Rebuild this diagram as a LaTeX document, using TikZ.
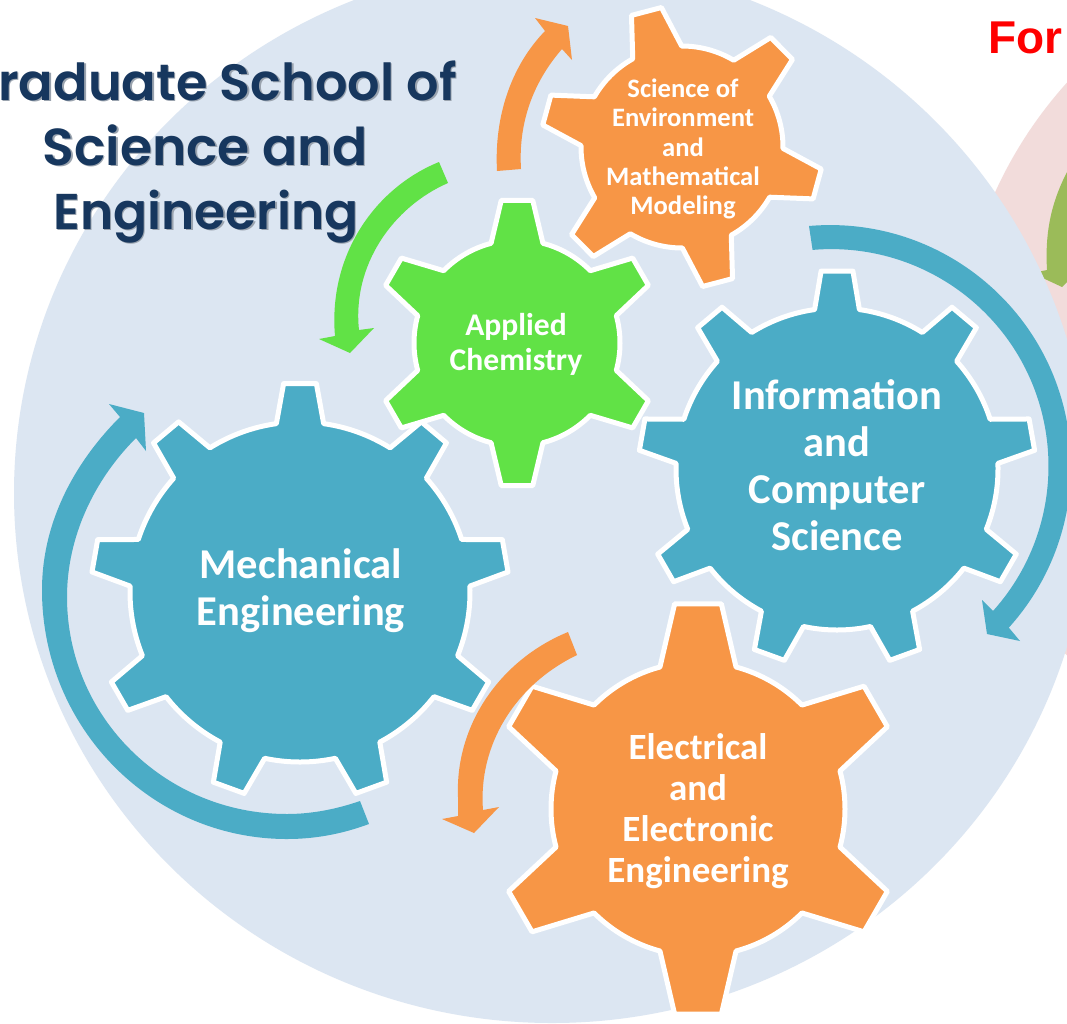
\documentclass[tikz,border=0pt]{standalone}
\usepackage{fontspec}
\setmainfont{Carlito}
\newfontfamily\titlefont{Poppins}[BoldFont={Poppins SemiBold}]
\newfontfamily\redfont{Liberation Sans}
\definecolor{bluedisc}{HTML}{DCE6F2}
\definecolor{pinkdisc}{HTML}{F2DCDB}
\definecolor{tealc}{HTML}{4BACC6}
\definecolor{orangec}{HTML}{F79646}
\definecolor{greenc}{HTML}{61E246}
\definecolor{olivec}{HTML}{9BBB59}
\definecolor{navyc}{HTML}{17375E}
\definecolor{shadowc}{HTML}{9AA3AE}
\tikzset{
  gearline/.style={draw=white,line width=5pt,line join=round},
  gearlabel/.style={text=white,align=center,inner sep=0pt,font=\bfseries},
  titleline/.style={inner sep=0pt,anchor=base,font=\titlefont\bfseries\fontsize{52}{64.5}\selectfont},
  titlefirst/.style={inner sep=0pt,anchor=base east,font=\titlefont\bfseries\fontsize{51}{64.5}\selectfont},
  titlelast/.style={inner sep=0pt,anchor=base,font=\titlefont\bfseries\fontsize{50.3}{64.5}\selectfont},
}
% cx, cy, root radius, tip radius, teeth, rotation, root half angle, tip half angle, colour
\newcommand{\cog}[9]{%
  \pgfmathsetmacro\cogstep{360/#5}%
  \begin{scope}[shift={(#1,-#2)},rotate=#6]
    \path[gearline,fill=#9] (\cogstep-#7:#3)
      \foreach \i in {1,...,#5} {
        \pgfextra{\pgfmathsetmacro\t{\i*\cogstep}\pgfmathsetmacro\tn{\t+\cogstep}}
        -- (\t-#8:#4) -- (\t+#8:#4) -- (\t+#7:#3)
        arc[start angle=\t+#7,end angle=\tn-#7,radius=#3]
      } -- cycle;
  \end{scope}}
\begin{document}
\begin{tikzpicture}[x=1pt,y=1pt]
\useasboundingbox (0,0) rectangle (1067,-1023);
\clip (0,0) rectangle (1067,-1023);
\fill[white] (0,0) rectangle (1067,-1023);
% discs
\fill[pinkdisc] (1385,-369) circle[radius=428];
\fill[olivec] (1067,-172) .. controls (1050,-205) and (1045,-235) .. (1047,-270)
  -- (1032,-273) -- (1062,-287) -- (1067,-282) -- cycle;
\fill[bluedisc] (552,-493) ellipse[x radius=538,y radius=530];
% title
\node[titlefirst,text=shadowc] at (458.5,-101.5) {raduate School of};
\node[titleline,text=shadowc] at (206.5,-166.5) {Science and};
\node[titlelast,text=shadowc] at (207.5,-230.5) {Engineering};
\node[titlefirst,text=navyc] (title1) at (457,-100) {raduate School of};
\node[titleline,text=navyc] (title2) at (205,-165) {Science and};
\node[titlelast,text=navyc] (title3) at (206,-229) {Engineering};
\node[anchor=base west,inner sep=0pt,text=red,font=\redfont\bfseries\fontsize{46}{50}\selectfont] (forlabel) at (988,-53) {For};
% gears
\cog{300}{592}{170}{209}{9}{90}{8}{4.5}{tealc}
\cog{837}{469}{161}{198.5}{9}{90}{8}{4.6}{tealc}
\cog{698}{809}{147}{206.5}{6}{90}{15}{6.5}{orangec}
\cog{517}{343}{103}{143.5}{6}{90}{14.6}{6.3}{greenc}
\cog{682}{147}{101}{141}{6}{44.7}{14.5}{6.3}{orangec}
% labels
\node[gearlabel,font=\bfseries\fontsize{42.5}{47}\selectfont] (mech) at (301,-591) {Mechanical\\Engineering};
\node[gearlabel,font=\bfseries\fontsize{42.5}{47}\selectfont] (info) at (837,-465) {Information\\and\\Computer\\Science};
\node[gearlabel,font=\bfseries\fontsize{37}{41}\selectfont] (elec) at (698,-811) {Electrical\\and\\Electronic\\Engineering};
\node[gearlabel,font=\bfseries\fontsize{31.6}{35}\selectfont] (chem) at (516,-344) {Applied\\Chemistry};
\node[gearlabel,font=\bfseries\fontsize{26.6}{29.3}\selectfont] (env) at (683,-149) {Science of\\Environment\\and\\Mathematical\\Modeling};
% circular arrows
\fill[greenc] (439,-162) .. controls (375,-188) and (328,-255) .. (335,-336)
  -- (319,-339) -- (350,-353) -- (374,-328) -- (359,-330)
  .. controls (352,-265) and (393,-207) .. (448,-183) -- cycle;
\fill[orangec] (497,-171) .. controls (494,-115) and (512,-65) .. (545,-31)
  -- (535,-18) -- (568,-26) -- (572,-60) -- (562,-49)
  .. controls (535,-80) and (518,-120) .. (521,-169) -- cycle;
\fill[orangec] (568,-632) .. controls (500,-660) and (455,-725) .. (458,-797) -- (458,-816)
  -- (442,-819) -- (474,-833) -- (499,-807) -- (483,-810)
  .. controls (478,-745) and (515,-685) .. (577,-655) -- cycle;
\fill[tealc] (809,-226) arc[start angle=95,end angle=-42.1,radius=241]
  -- (1020,-641) -- (987,-634) -- (982,-600) -- (993,-611)
  arc[start angle=-41.9,end angle=95,radius=217] -- cycle;
\fill[tealc] (369,-824) .. controls (342,-834) and (315,-839) .. (287,-839)
  .. controls (152,-839) and (42,-728) .. (42,-590)
  .. controls (42,-524) and (73,-464) .. (120,-417)
  -- (109,-404) -- (144,-413) -- (146,-451) -- (136,-438)
  .. controls (94,-480) and (67,-537) .. (67,-597)
  .. controls (67,-717) and (165,-814) .. (287,-814)
  .. controls (312,-814) and (337,-809) .. (360,-801) -- cycle;
\end{tikzpicture}
\end{document}
